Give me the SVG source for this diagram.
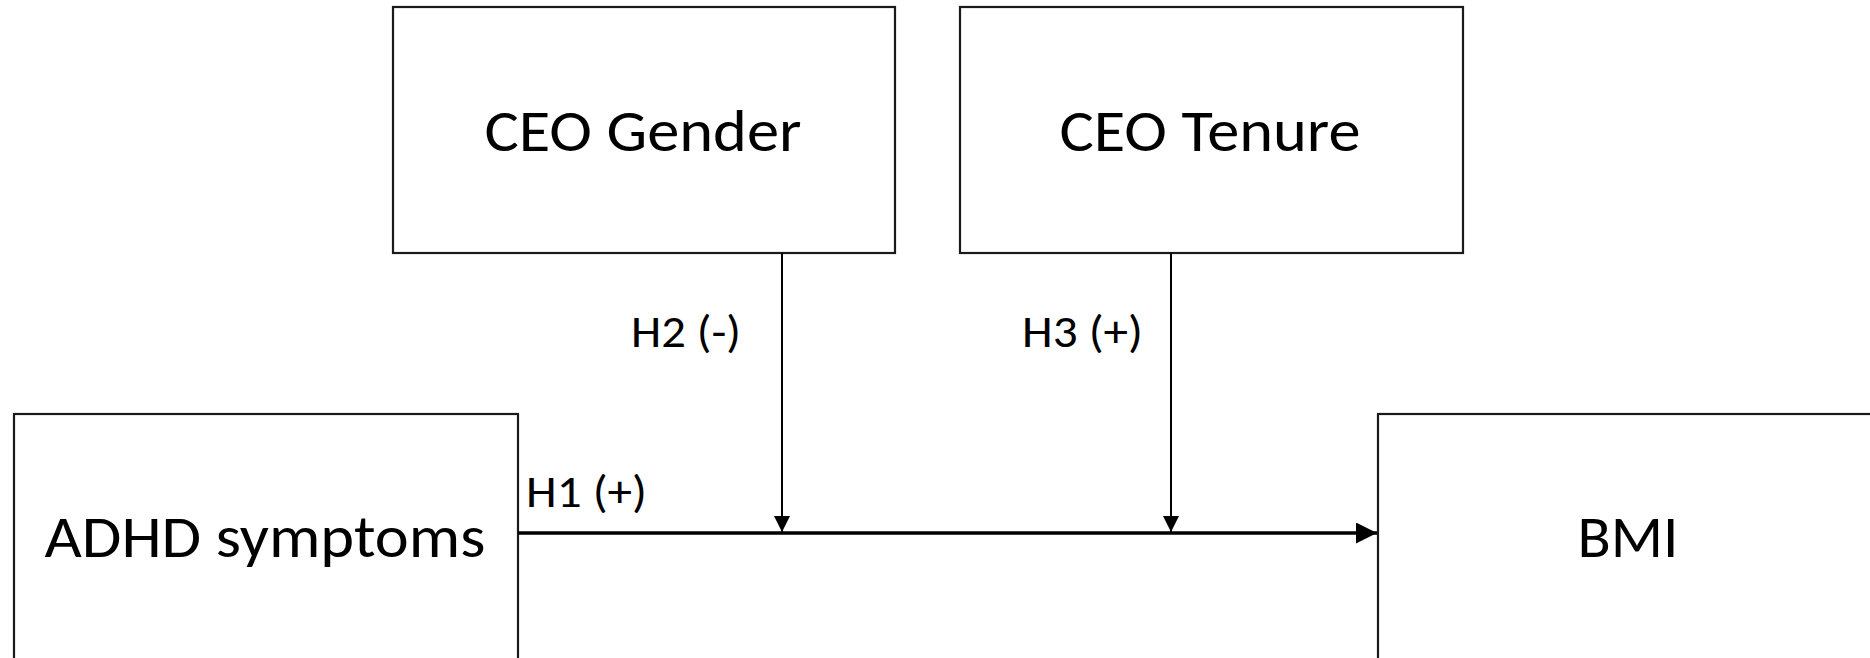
<svg xmlns="http://www.w3.org/2000/svg" width="1870" height="658" viewBox="0 0 1870 658">
<style>
.box{fill:#fff;stroke:#1a1a1a;stroke-width:2.2}
.t{font-family:Carlito,"Open Sans","Noto Sans",sans-serif;font-size:60px;fill:#000;text-anchor:middle}
.l{font-family:Carlito,"Open Sans","Noto Sans",sans-serif;font-size:46px;fill:#000}
.c{stroke:#000;fill:none}
</style>
<defs>
<marker id="ah" viewBox="0 0 10 10" refX="10" refY="5" markerWidth="16" markerHeight="18" markerUnits="userSpaceOnUse" orient="auto">
<path d="M0,0 L10,5 L0,10 Z" fill="#000"/>
</marker>
<marker id="ahb" viewBox="0 0 10 10" refX="10" refY="5" markerWidth="21" markerHeight="21" markerUnits="userSpaceOnUse" orient="auto">
<path d="M0,0 L10,5 L0,10 Z" fill="#000"/>
</marker>
</defs>
<rect width="1870" height="658" fill="#fff"/>
<g id="ceo-gender">
<rect class="box" x="393" y="7" width="502" height="246"/>
<text class="t" x="643" y="151" textLength="317" lengthAdjust="spacingAndGlyphs">CEO Gender</text>
</g>
<g id="ceo-tenure">
<rect class="box" x="960" y="7" width="503" height="246"/>
<text class="t" x="1210" y="151" textLength="301" lengthAdjust="spacingAndGlyphs">CEO Tenure</text>
</g>
<g id="adhd">
<rect class="box" x="14" y="414" width="504" height="260"/>
<text class="t" x="265" y="557" textLength="441" lengthAdjust="spacingAndGlyphs">ADHD symptoms</text>
</g>
<g id="bmi">
<rect class="box" x="1378" y="414" width="510" height="260"/>
<text class="t" x="1628" y="557" textLength="101" lengthAdjust="spacingAndGlyphs">BMI</text>
</g>
<g id="connectors">
<line class="c" x1="518" y1="533" x2="1377" y2="533" stroke-width="3.5" marker-end="url(#ahb)"/>
<line class="c" x1="782" y1="253" x2="782" y2="532" stroke-width="2" marker-end="url(#ah)"/>
<line class="c" x1="1171" y1="253" x2="1171" y2="532" stroke-width="2" marker-end="url(#ah)"/>
<text class="l" x="526" y="507" textLength="121" lengthAdjust="spacingAndGlyphs">H1 (+)</text>
<text class="l" x="631" y="347" textLength="110" lengthAdjust="spacingAndGlyphs">H2 (-)</text>
<text class="l" x="1022" y="347" textLength="121" lengthAdjust="spacingAndGlyphs">H3 (+)</text>
</g>
</svg>
